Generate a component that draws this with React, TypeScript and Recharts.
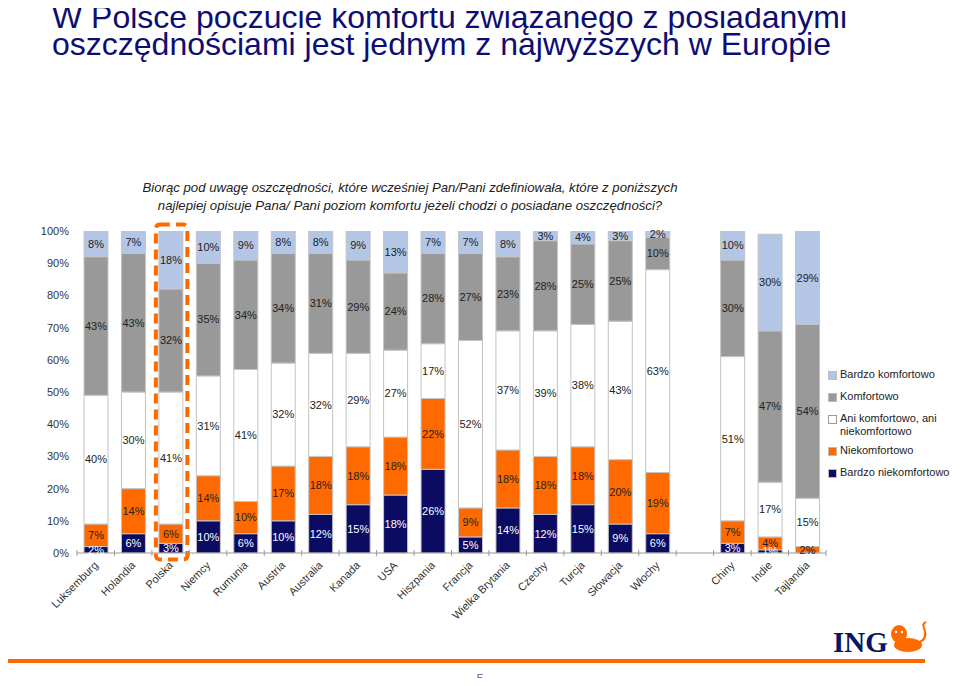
import React from "react";
import { BarChart, Bar, XAxis, YAxis, LabelList, ReferenceArea } from "recharts";

// kategorie (pusta pozycja = odstęp przed Chinami)
const categories = [
  "Luksemburg", "Holandia", "Polska", "Niemcy", "Rumunia", "Austria", "Australia",
  "Kanada", "USA", "Hiszpania", "Francja", "Wielka Brytania", "Czechy", "Turcja",
  "Słowacja", "Włochy", "", "Chiny", "Indie", "Tajlandia",
];

// od dołu do góry
const bardzoNiekomfortowo = [2, 6, 3, 10, 6, 10, 12, 15, 18, 26, 5, 14, 12, 15, 9, 6, null, 3, 1, 0];
const niekomfortowo = [7, 14, 6, 14, 10, 17, 18, 18, 18, 22, 9, 18, 18, 18, 20, 19, null, 7, 4, 2];
const aniAni = [40, 30, 41, 31, 41, 32, 32, 29, 27, 17, 52, 37, 39, 38, 43, 63, null, 51, 17, 15];
const komfortowo = [43, 43, 32, 35, 34, 34, 31, 29, 24, 28, 27, 23, 28, 25, 25, 10, null, 30, 47, 54];
const bardzoKomfortowo = [8, 7, 18, 10, 9, 8, 8, 9, 13, 7, 7, 8, 3, 4, 3, 2, null, 10, 30, 29];

const yTicks = [0, 10, 20, 30, 40, 50, 60, 70, 80, 90, 100];

const data = categories.map((name, i) => ({
  name,
  bn: bardzoNiekomfortowo[i],
  n: niekomfortowo[i],
  a: aniAni[i],
  k: komfortowo[i],
  bk: bardzoKomfortowo[i],
}));

const FONT = "'Liberation Sans', Arial, sans-serif";
const NAVY = "#0b0b63";
const ORANGE = "#ff6a00";
const GREY = "#999999";
const LIGHT = "#b4c6e6";

const PLOT_LEFT = 77;
const PLOT_RIGHT = 826;
const PLOT_TOP = 231;
const PLOT_BOTTOM = 553;
const BAND = (PLOT_RIGHT - PLOT_LEFT) / categories.length;

const series = [
  { key: "bn", name: "Bardzo niekomfortowo", color: NAVY, text: "#ffffff" },
  { key: "n", name: "Niekomfortowo", color: ORANGE, text: "#222222" },
  { key: "a", name: "Ani komfortowo, ani niekomfortowo", color: "#ffffff", text: "#222222" },
  { key: "k", name: "Komfortowo", color: GREY, text: "#222222" },
  { key: "bk", name: "Bardzo komfortowo", color: LIGHT, text: "#222222" },
];

const XTick = (props: any) => {
  const { x, payload, index } = props;
  const ty = PLOT_BOTTOM;
  return (
    <g>
      <line x1={x - BAND / 2} x2={x - BAND / 2} y1={ty - 3} y2={ty + 3} stroke="#999" />
      {index === categories.length - 1 && (
        <line x1={x + BAND / 2} x2={x + BAND / 2} y1={ty - 3} y2={ty + 3} stroke="#999" />
      )}
      <text
        x={x + 3}
        y={ty + 13}
        textAnchor="end"
        transform={`rotate(-45 ${x + 3} ${ty + 13})`}
        fontSize={11}
        fontFamily={FONT}
        fill="#333"
      >
        {payload.value}
      </text>
    </g>
  );
};

const makeLabel = (fill: string) => (props: any) => {
  const { x, y, width, height, value } = props;
  if (value === null || value === undefined) return null;
  return (
    <text
      x={x + width / 2}
      y={y + height / 2}
      dy="0.35em"
      textAnchor="middle"
      fontSize={11}
      fontFamily={FONT}
      fill={value === 0 ? "#333" : fill}
    >
      {value}%
    </text>
  );
};

const HighlightShape = (props: any) => {
  const { x, y, width, height } = props;
  return (
    <rect
      x={x + 4}
      y={y}
      width={width - 6}
      height={height}
      rx={4}
      fill="none"
      stroke={ORANGE}
      strokeWidth={4}
      strokeDasharray="10 6"
    />
  );
};

const legendItems = [...series].reverse();

export default function App() {
  return (
    <div style={{ position: "relative", width: 960, height: 686, margin: -8, background: "#fff", overflow: "hidden", fontFamily: FONT }}>
      <div style={{ position: "absolute", left: 52, top: 4, fontSize: 32, lineHeight: "27px", color: "#0d0d73", whiteSpace: "nowrap" }}>
        W Polsce poczucie komfortu związanego z posiadanymi
        <br />
        oszczędnościami jest jednym z najwyższych w Europie
      </div>
      <div style={{ position: "absolute", left: 0, top: 179, width: 820, textAlign: "center", fontSize: 13.2, lineHeight: "18px", fontStyle: "italic", color: "#222" }}>
        Biorąc pod uwagę oszczędności, które wcześniej Pan/Pani zdefiniowała, które z poniższych
        <br />
        najlepiej opisuje Pana/ Pani poziom komfortu jeżeli chodzi o posiadane oszczędności?
      </div>

      <div style={{ position: "absolute", left: 0, top: 0 }}>
        <BarChart
          width={960}
          height={686}
          data={data}
          margin={{ top: PLOT_TOP, right: 960 - PLOT_RIGHT, left: PLOT_LEFT - 40, bottom: 686 - PLOT_BOTTOM - 60 }}
          barSize={24}
        >
          <XAxis
            dataKey="name"
            interval={0}
            tickLine={false}
            axisLine={{ stroke: "#999" }}
            tick={<XTick />}
            height={60}
          />
          <YAxis
            type="number"
            domain={[0, 100]}
            ticks={yTicks}
            allowDataOverflow
            width={40}
            axisLine={false}
            tickLine={false}
            tickFormatter={(v: number) => `${v}%`}
            tick={{ fontSize: 11, fill: "#333", fontFamily: FONT }}
          />
          {series.map((s) => (
            <Bar
              key={s.key}
              dataKey={s.key}
              stackId="a"
              fill={s.color}
              stroke="#c4c4c4"
              strokeWidth={1}
              isAnimationActive={false}
            >
              <LabelList dataKey={s.key} content={makeLabel(s.text)} />
            </Bar>
          ))}
          <ReferenceArea
            x1="Polska"
            x2="Polska"
            y1={-2}
            y2={102}
            ifOverflow="visible"
            shape={<HighlightShape />}
          />
        </BarChart>
      </div>

      <div style={{ position: "absolute", left: 828, top: 368, fontSize: 11, color: "#222", lineHeight: "13px" }}>
        {legendItems.map((s, i) => (
          <div key={s.key} style={{ display: "flex", alignItems: "flex-start", marginBottom: i === 2 ? 6 : 9, width: 130 }}>
            <span
              style={{
                display: "inline-block",
                width: 7,
                height: 7,
                marginTop: 3,
                marginRight: 3,
                flexShrink: 0,
                background: s.color,
                border: `1px solid ${s.color === "#ffffff" ? "#999" : "#bbb"}`,
              }}
            />
            <span style={{ maxWidth: 110 }}>{s.name}</span>
          </div>
        ))}
      </div>

      <svg width={960} height={686} style={{ position: "absolute", left: 0, top: 0, pointerEvents: "none" }}>
        <rect x={0} y={659} width={925} height={4} fill={ORANGE} />
        <text x={833} y={652} fontSize={29} fontWeight="bold" fontFamily="'Liberation Serif', serif" fill="#0a1464">ING</text>
        <g fill={ORANGE}>
          <ellipse cx={899} cy={634} rx={8} ry={9} />
          <ellipse cx={908} cy={645} rx={14} ry={7} />
          <path d="M920 642 q8 -4 4 -14 q-2 -4 2 -6" stroke={ORANGE} strokeWidth={2} fill="none" />
        </g>
        <g fill="#fff">
          <circle cx={896} cy={632} r={1.2} />
          <circle cx={902} cy={632} r={1.2} />
        </g>
        <text x={480} y={683} fontSize={13} textAnchor="middle" fontFamily={FONT} fill="#6677a0">5</text>
      </svg>
    </div>
  );
}
